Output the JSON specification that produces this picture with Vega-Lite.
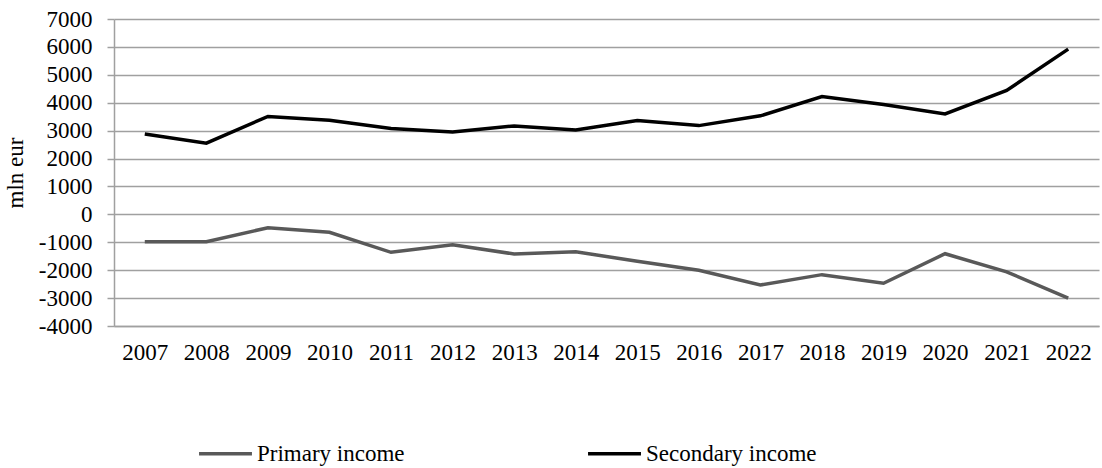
{
  "$schema": "https://vega.github.io/schema/vega-lite/v6.json",
  "width": 985,
  "height": 307,
  "autosize": {"type": "none"},
  "padding": {"left": 114, "top": 19, "right": 3, "bottom": 142},
  "background": "white",
  "config": {
    "view": {"stroke": null},
    "font": "Liberation Serif"
  },
  "data": {
    "values": [
      {"year": "2007", "series": "Primary income", "value": -980},
      {"year": "2008", "series": "Primary income", "value": -980},
      {"year": "2009", "series": "Primary income", "value": -480},
      {"year": "2010", "series": "Primary income", "value": -640},
      {"year": "2011", "series": "Primary income", "value": -1360},
      {"year": "2012", "series": "Primary income", "value": -1090},
      {"year": "2013", "series": "Primary income", "value": -1420},
      {"year": "2014", "series": "Primary income", "value": -1340},
      {"year": "2015", "series": "Primary income", "value": -1680},
      {"year": "2016", "series": "Primary income", "value": -2000},
      {"year": "2017", "series": "Primary income", "value": -2530},
      {"year": "2018", "series": "Primary income", "value": -2160},
      {"year": "2019", "series": "Primary income", "value": -2470},
      {"year": "2020", "series": "Primary income", "value": -1410},
      {"year": "2021", "series": "Primary income", "value": -2060},
      {"year": "2022", "series": "Primary income", "value": -3000},
      {"year": "2007", "series": "Secondary income", "value": 2880},
      {"year": "2008", "series": "Secondary income", "value": 2550},
      {"year": "2009", "series": "Secondary income", "value": 3510},
      {"year": "2010", "series": "Secondary income", "value": 3370},
      {"year": "2011", "series": "Secondary income", "value": 3080},
      {"year": "2012", "series": "Secondary income", "value": 2950},
      {"year": "2013", "series": "Secondary income", "value": 3170},
      {"year": "2014", "series": "Secondary income", "value": 3020},
      {"year": "2015", "series": "Secondary income", "value": 3360},
      {"year": "2016", "series": "Secondary income", "value": 3180},
      {"year": "2017", "series": "Secondary income", "value": 3530},
      {"year": "2018", "series": "Secondary income", "value": 4220},
      {"year": "2019", "series": "Secondary income", "value": 3940},
      {"year": "2020", "series": "Secondary income", "value": 3600},
      {"year": "2021", "series": "Secondary income", "value": 4440},
      {"year": "2022", "series": "Secondary income", "value": 5920}
    ]
  },
  "mark": {"type": "line", "strokeWidth": 3.5, "strokeJoin": "miter"},
  "encoding": {
    "x": {
      "field": "year",
      "type": "ordinal",
      "scale": {"type": "point", "padding": 0.5},
      "axis": {
        "title": null,
        "labelAngle": 0,
        "labelFont": "Liberation Serif",
        "labelFontSize": 23,
        "labelColor": "#000000",
        "labelPadding": 15,
        "ticks": false,
        "grid": false,
        "domainColor": "#a0a0a0",
        "domainWidth": 1.5
      }
    },
    "y": {
      "field": "value",
      "type": "quantitative",
      "scale": {"domain": [-4000, 7000], "nice": false, "zero": false},
      "axis": {
        "values": [-4000, -3000, -2000, -1000, 0, 1000, 2000, 3000, 4000, 5000, 6000, 7000],
        "labelExpr": "datum.value < 0 ? '-' + format(-datum.value, 'd') : format(datum.value, 'd')",
        "title": "mln eur",
        "titleFont": "Liberation Serif",
        "titleFontSize": 23,
        "titleFontWeight": "normal",
        "titleColor": "#000000",
        "titlePadding": 11,
        "labelFont": "Liberation Serif",
        "labelFontSize": 23,
        "labelColor": "#000000",
        "labelPadding": 15,
        "tickSize": 7,
        "tickColor": "#a0a0a0",
        "tickWidth": 1.5,
        "gridColor": "#a0a0a0",
        "gridWidth": 1.5,
        "domainColor": "#a0a0a0",
        "domainWidth": 1.5
      }
    },
    "color": {
      "field": "series",
      "type": "nominal",
      "scale": {"domain": ["Primary income", "Secondary income"], "range": ["#595959", "#000000"]},
      "legend": {
        "title": null,
        "orient": "none",
        "direction": "horizontal",
        "legendX": 83,
        "legendY": 406,
        "symbolType": "stroke",
        "symbolSize": 2800,
        "symbolStrokeWidth": 3.5,
        "labelFont": "Liberation Serif",
        "labelFontSize": 23,
        "labelColor": "#000000",
        "labelOffset": 3,
        "columnPadding": 176,
        "labelLimit": 400
      }
    }
  }
}
